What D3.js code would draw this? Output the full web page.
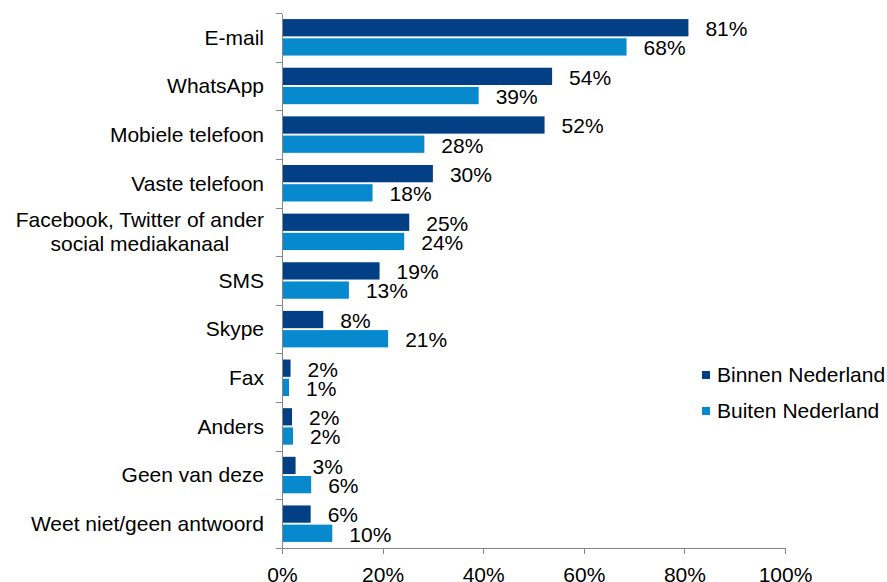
<!DOCTYPE html>
<html>
<head>
<meta charset="utf-8">
<script src="https://cdn.jsdelivr.net/npm/d3@7"></script>
<style>
  body { margin: 0; background: #fff; }
  svg { font-family: "Liberation Sans", Arial, sans-serif; }
  .axis path, .axis line { fill: none; stroke: #868686; shape-rendering: crispEdges; }
  .axis text { font-size: 21px; fill: #000; font-family: "Liberation Sans", Arial, sans-serif; }
  .cat, .val, .legend text { font-size: 21px; fill: #000; }
</style>
</head>
<body>
<svg id="chart"></svg>
<script>
// values (percent)
const categories = [
  'E-mail',
  'WhatsApp',
  'Mobiele telefoon',
  'Vaste telefoon',
  'Facebook, Twitter of ander\nsocial mediakanaal',
  'SMS',
  'Skype',
  'Fax',
  'Anders',
  'Geen van deze',
  'Weet niet/geen antwoord'
];
const series = ['Binnen Nederland', 'Buiten Nederland'];
const binnen = [80.6, 53.5, 52.0, 29.8, 25.1, 19.2, 8.0, 1.5, 1.8, 2.5, 5.5];
const buiten = [68.3, 38.9, 28.1, 17.8, 24.1, 13.1, 20.9, 1.2, 2.0, 5.6, 9.8];
const xTicks = [0, 0.2, 0.4, 0.6, 0.8, 1.0];
const colors = ['#023f84', '#0789ce'];

const W = 887, H = 582;
const margin = {top: 13, right: 102, bottom: 34, left: 282},
      width = W - margin.left - margin.right,
      height = H - margin.top - margin.bottom;

const svg = d3.select('#chart').attr('width', W).attr('height', H);
const chart = svg.append('g')
  .attr('transform', `translate(${margin.left},${margin.top})`);

const x = d3.scaleLinear().domain([0, 1]).range([0, width]);

const y0 = d3.scaleBand()
  .domain(categories)
  .range([0, height])
  .paddingInner(0.25)
  .paddingOuter(0.125);

const y1 = d3.scaleBand()
  .domain(series)
  .range([0, y0.bandwidth()])
  .paddingInner(0.1);

const color = d3.scaleOrdinal().domain(series).range(colors);

const rows = categories.map((c, i) => ({
  name: c,
  values: [
    {key: series[0], value: binnen[i] / 100},
    {key: series[1], value: buiten[i] / 100}
  ]
}));

// x axis
const xAxis = d3.axisBottom(x)
  .tickValues(xTicks)
  .tickFormat(d3.format('.0%'))
  .tickSize(6)
  .tickSizeOuter(0)
  .tickPadding(13);

const gx = chart.append('g')
  .attr('class', 'x axis')
  .attr('transform', `translate(0,${height})`)
  .call(xAxis);
gx.select('.domain').attr('d', `M-6,0.5H${width}`);

// y axis: ticks at category boundaries
const yb = d3.scaleLinear().domain([0, categories.length]).range([0, height]);
const yAxis = d3.axisLeft(yb)
  .tickValues(d3.range(categories.length + 1))
  .tickFormat('')
  .tickSize(6)
  .tickSizeOuter(0);

chart.append('g')
  .attr('class', 'y axis')
  .call(yAxis);

// bars
const groups = chart.selectAll('.row')
  .data(rows)
  .enter().append('g')
    .attr('class', 'row')
    .attr('transform', d => `translate(0,${y0(d.name)})`);

groups.selectAll('rect')
  .data(d => d.values)
  .enter().append('rect')
    .attr('x', x(0) + 1)
    .attr('y', d => y1(d.key))
    .attr('width', d => x(d.value) - x(0))
    .attr('height', y1.bandwidth())
    .attr('fill', d => color(d.key));

groups.selectAll('.val')
  .data(d => d.values)
  .enter().append('text')
    .attr('class', 'val')
    .attr('x', d => x(d.value) + 18)
    .attr('y', d => y1(d.key) + y1.bandwidth() / 2 + 1)
    .attr('dy', '0.35em')
    .text(d => Math.round(d.value * 100) + '%');

// category labels
const labelRight = -18;
chart.selectAll('.cat')
  .data(categories)
  .enter().append('text')
    .attr('class', 'cat')
    .each(function(d) {
      const lines = d.split('\n');
      const t = d3.select(this);
      const cy = y0(d) + y0.bandwidth() / 2;
      const lh = 24;
      const spans = lines.map((l, i) => t.append('tspan')
        .attr('y', cy + (i - (lines.length - 1) / 2) * lh)
        .attr('dy', '0.35em')
        .text(l));
      if (lines.length > 1) {
        const maxW = d3.max(spans, s => s.node().getComputedTextLength());
        t.attr('text-anchor', 'middle');
        spans.forEach(s => s.attr('x', labelRight - maxW / 2));
      } else {
        t.attr('text-anchor', 'end');
        spans.forEach(s => s.attr('x', labelRight));
      }
    });

// legend
const legend = svg.append('g')
  .attr('class', 'legend')
  .attr('transform', 'translate(702,371)');

const li = legend.selectAll('g')
  .data(series)
  .enter().append('g')
    .attr('transform', (d, i) => `translate(0,${i * 36})`);

li.append('rect')
  .attr('width', 8)
  .attr('height', 8)
  .attr('fill', d => color(d));

li.append('text')
  .attr('x', 15)
  .attr('y', 4)
  .attr('dy', '0.35em')
  .text(d => d);
</script>
</body>
</html>
